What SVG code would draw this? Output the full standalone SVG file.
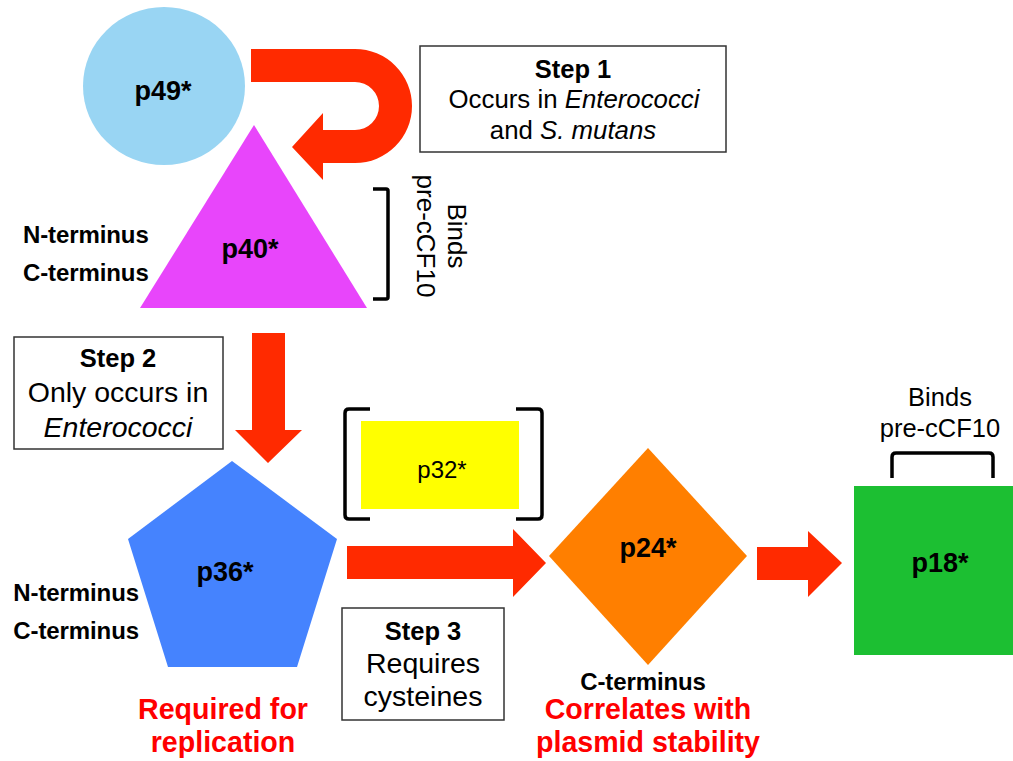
<svg xmlns="http://www.w3.org/2000/svg" width="1013" height="761" viewBox="0 0 1013 761">
<style>
text{font-family:"Liberation Sans",Arial,sans-serif;fill:#000}
.lbl{font-size:27px;font-weight:bold;text-anchor:middle}
.term{font-size:24px;font-weight:bold;letter-spacing:-0.1px}
.box{fill:#fff;stroke:#333;stroke-width:1.5}
.bt{font-size:25.5px;font-weight:bold;text-anchor:middle}
.rt{text-anchor:middle}
.red{font-size:28.6px;font-weight:bold;fill:#ff0000;text-anchor:middle}
.arrow{fill:#ff2a00}
.brk{fill:none;stroke:#000;stroke-width:3.5;stroke-linejoin:round}
.it{font-style:italic}
</style>
<rect width="1013" height="761" fill="#fff"/>
<g id="connectors">
<path class="arrow" d="M251,49 L355,49 A57,57 0 0 1 355,163 L323,163 L323,180 L292,147 L323,113 L323,130 L355,130 A24,24 0 0 0 355,82 L251,82 Z"/>
<path class="arrow" d="M252,333 L285,333 L285,430 L302,430 L268,463 L235,430 L252,430 Z"/>
<path class="arrow" d="M347,546 L513,546 L513,529 L546,563 L513,597 L513,579 L347,579 Z"/>
<path class="arrow" d="M757,547 L808,547 L808,531 L842,563 L808,597 L808,580 L757,580 Z"/>
</g>
<g id="p49">
<ellipse cx="164" cy="86" rx="81" ry="79" fill="#99d5f3"/>
<text class="lbl" x="163" y="100">p49*</text>
</g>
<g id="step1">
<rect class="box" x="420" y="46" width="306" height="106"/>
<text class="bt" x="573" y="78">Step 1</text>
<text class="rt" x="574" y="108" font-size="25.8">Occurs in <tspan class="it">Enterococci</tspan></text>
<text class="rt" x="573" y="139" font-size="25.8">and <tspan class="it">S. mutans</tspan></text>
</g>
<g id="p40">
<polygon points="254,125 367,308 140,308" fill="#e845fb"/>
<text class="lbl" x="250" y="258">p40*</text>
<text class="term" x="23" y="243">N-terminus</text>
<text class="term" x="23" y="281">C-terminus</text>
<path class="brk" d="M373,189 L386,189 Q388,189 388,191 L388,297 Q388,299 386,299 L373,299"/>
<text transform="translate(433,236) rotate(90)" class="rt" font-size="26"><tspan x="0" y="-15">Binds</tspan><tspan x="0" y="16">pre-cCF10</tspan></text>
</g>
<g id="step2">
<rect class="box" x="14" y="337" width="209" height="112"/>
<text class="bt" x="118" y="367">Step 2</text>
<text class="rt" x="118" y="402" font-size="28.5">Only occurs in</text>
<text class="rt it" x="118" y="437" font-size="28.5">Enterococci</text>
</g>
<g id="p32">
<path class="brk" d="M370,409 L349,409 Q345,409 345,413 L345,515 Q345,519 349,519 L370,519"/>
<path class="brk" d="M516,409 L538,409 Q542,409 542,413 L542,515 Q542,519 538,519 L516,519"/>
<rect x="361" y="421" width="158" height="88" fill="#ffff00"/>
<text class="rt" x="442" y="478" font-size="24">p32*</text>
</g>
<g id="p36">
<polygon points="232,461 337,539 297,667 168,667 128,539" fill="#4583fe"/>
<text class="lbl" x="225" y="581">p36*</text>
<text class="term" x="139" y="601" text-anchor="end">N-terminus</text>
<text class="term" x="139" y="639" text-anchor="end">C-terminus</text>
<text class="red" x="223" y="719">Required for</text>
<text class="red" x="223" y="752">replication</text>
</g>
<g id="step3">
<rect class="box" x="342" y="608" width="162" height="112"/>
<text class="bt" x="423" y="640">Step 3</text>
<text class="rt" x="423" y="673" font-size="28.5">Requires</text>
<text class="rt" x="423" y="706" font-size="28.5">cysteines</text>
</g>
<g id="p24">
<polygon points="648,448 747,556 648,665 549,556" fill="#ff7f00"/>
<text class="lbl" x="648" y="557">p24*</text>
<text class="term" x="643" y="690" text-anchor="middle">C-terminus</text>
<text class="red" x="648" y="719">Correlates with</text>
<text class="red" x="648" y="752">plasmid stability</text>
</g>
<g id="p18">
<rect x="854" y="486" width="159" height="169" fill="#1cbf32"/>
<text class="lbl" x="940" y="572">p18*</text>
<path class="brk" d="M892,478 L892,457 Q892,453 896,453 L989,453 Q993,453 993,457 L993,478"/>
<text class="rt" x="940" y="406" font-size="25.5">Binds</text>
<text class="rt" x="940" y="437" font-size="25.5">pre-cCF10</text>
</g>
</svg>
